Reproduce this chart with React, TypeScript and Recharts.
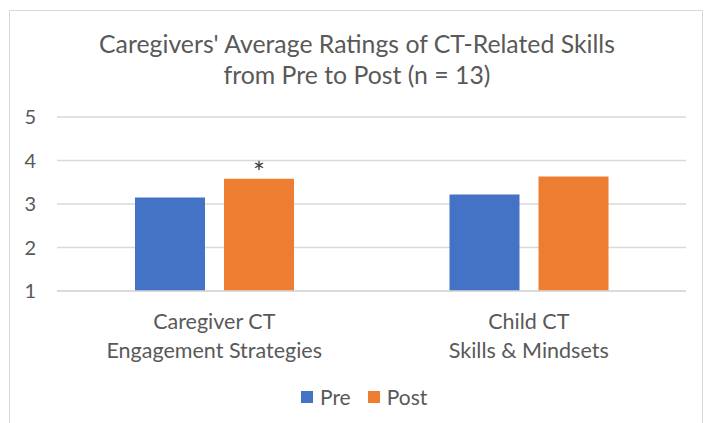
import React from 'react';
import { BarChart, Bar, XAxis, YAxis, CartesianGrid, Legend, LabelList } from 'recharts';

const categories = ['Caregiver CT\nEngagement Strategies', 'Child CT\nSkills & Mindsets'];
const preValues = [3.15, 3.22];
const postValues = [3.58, 3.63];
const postMarks = ['*', ''];
const yTicks = [1, 2, 3, 4, 5];

const data = categories.map((name, i) => ({
  name,
  pre: preValues[i],
  post: postValues[i],
  mark: postMarks[i],
}));

const FONT = 'Lato, "Open Sans", sans-serif';
const TEXT = '#595959';

const CategoryTick = ({ x, y, payload }: any) => {
  const lines = String(payload.value).split('\n');
  return (
    <g transform={`translate(${x},${y})`}>
      {lines.map((line, i) => (
        <text
          key={i}
          x={0}
          y={25 + i * 29}
          textAnchor="middle"
          dominantBaseline="middle"
          fill={TEXT}
          fontSize={21.5}
          fontFamily={FONT}
        >
          {line}
        </text>
      ))}
    </g>
  );
};

const LegendContent = () => (
  <div style={{ display: 'flex', alignItems: 'center', fontFamily: FONT, fontSize: 21, color: TEXT }}>
    <span style={{ width: 12, height: 12, background: '#4472C4', display: 'inline-block', marginRight: 7 }} />
    <span style={{ marginRight: 17 }}>Pre</span>
    <span style={{ width: 12, height: 12, background: '#ED7D31', display: 'inline-block', marginRight: 7 }} />
    <span>Post</span>
  </div>
);

const App: React.FC = () => {
  return (
    <div style={{ position: 'absolute', left: 0, top: 0, width: 708, height: 423, background: '#fff', overflow: 'hidden' }}>
      <div
        style={{
          position: 'absolute',
          left: 9,
          top: 10,
          width: 694,
          height: 430,
          border: '1px solid #d9d9d9',
          boxSizing: 'border-box',
        }}
      />
      <div
        style={{
          position: 'absolute',
          left: 0,
          top: 28,
          width: 714,
          textAlign: 'center',
          fontFamily: FONT,
          fontSize: 24.8,
          lineHeight: '31px',
          color: TEXT,
        }}
      >
        Caregivers' Average Ratings of CT-Related Skills
        <br />
        from Pre to Post (n = 13)
      </div>
      <BarChart
        width={708}
        height={423}
        data={data}
        margin={{ top: 117, right: 22, left: 0, bottom: 15 }}
        barCategoryGap={78}
        barGap={19}
        style={{ position: 'absolute', left: 0, top: 0 }}
      >
        <CartesianGrid vertical={false} stroke="#d9d9d9" strokeWidth={1.3} />
        <XAxis
          dataKey="name"
          tick={<CategoryTick />}
          tickLine={false}
          axisLine={{ stroke: '#d9d9d9', strokeWidth: 1.3 }}
          height={93}
          interval={0}
        />
        <YAxis
          domain={[1, 5]}
          ticks={yTicks}
          width={57}
          axisLine={false}
          tickLine={false}
          tickSize={0}
          tickMargin={21}
          tick={{ fontSize: 20, fill: TEXT, fontFamily: FONT }}
        />
        <Legend
          content={<LegendContent />}
          wrapperStyle={{ left: 301, width: 140, bottom: 15, height: 24 }}
        />
        <Bar dataKey="pre" name="Pre" fill="#4472C4" isAnimationActive={false} />
        <Bar dataKey="post" name="Post" fill="#ED7D31" isAnimationActive={false}>
          <LabelList dataKey="mark" position="top" offset={-4} fill="#404040" fontSize={28} fontFamily={FONT} />
        </Bar>
      </BarChart>
    </div>
  );
};

export default App;
